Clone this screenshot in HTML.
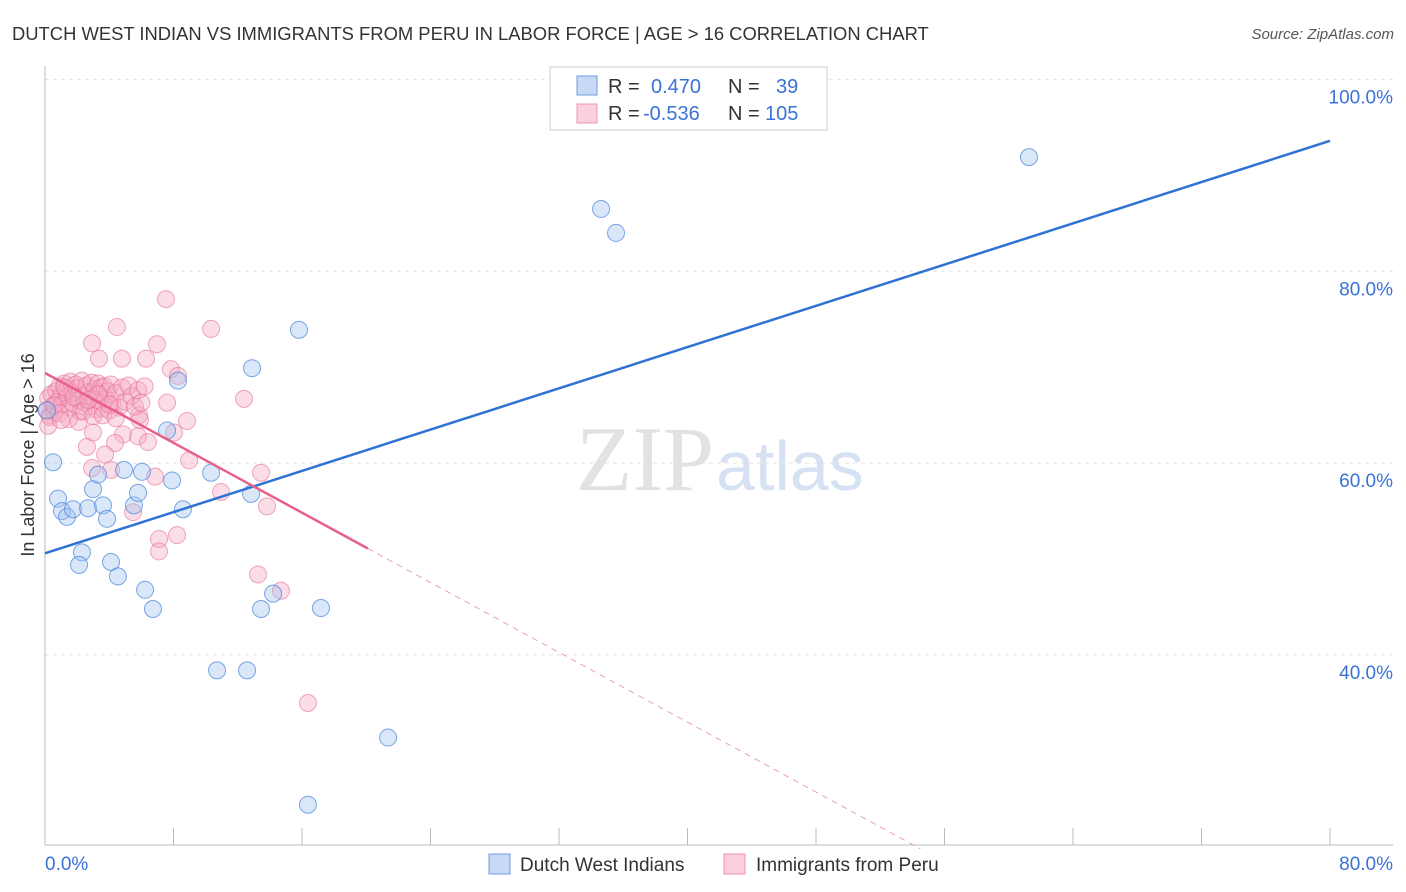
<!DOCTYPE html>
<html><head><meta charset="utf-8"><style>
body{margin:0;background:#fff;font-family:"Liberation Sans",sans-serif}
svg{display:block}
</style></head><body>
<svg id="c" width="1406" height="892">
<text x="12" y="40" font-size="18.4" fill="#333">DUTCH WEST INDIAN VS IMMIGRANTS FROM PERU IN LABOR FORCE | AGE &gt; 16 CORRELATION CHART</text>
<text x="1394" y="39" font-size="15" fill="#555" font-style="italic" text-anchor="end">Source: ZipAtlas.com</text>
<text x="714" y="490" font-size="92" fill="#e2e2e2" text-anchor="end" font-family="Liberation Serif,serif">ZIP</text>
<text x="716" y="490" font-size="70" fill="#d6e2f3">atlas</text>
<text transform="translate(34,455) rotate(-90)" font-size="18" fill="#333" text-anchor="middle">In Labor Force | Age &gt; 16</text>
<g id="grid"></g><g id="pts"></g><g id="lines"></g>
<g>
<rect x="550" y="67" width="277" height="63" fill="#fff" stroke="#ccc"/>
<rect x="577" y="76" width="20" height="19" fill="#c7d9f5" stroke="#6f9ee0"/>
<rect x="577" y="104" width="20" height="19" fill="#fbd0dc" stroke="#ef95b0"/>
<text x="608" y="93" font-size="20" fill="#333">R =</text><text x="651" y="93" font-size="20" fill="#3a72d6">0.470</text>
<text x="728" y="93" font-size="20" fill="#333">N =</text><text x="776" y="93" font-size="20" fill="#3a72d6">39</text>
<text x="608" y="120" font-size="20" fill="#333">R =</text><text x="643" y="120" font-size="20" fill="#3a72d6">-0.536</text>
<text x="728" y="120" font-size="20" fill="#333">N =</text><text x="765" y="120" font-size="20" fill="#3a72d6">105</text>
</g>
<g>
<rect x="489" y="854" width="21" height="20" fill="#c7d9f5" stroke="#6f9ee0"/>
<text x="520" y="871" font-size="19" fill="#333">Dutch West Indians</text>
<rect x="724" y="854" width="21" height="20" fill="#fbd0dc" stroke="#ef95b0"/>
<text x="756" y="871" font-size="19" fill="#333">Immigrants from Peru</text>
</g>
</svg>
<script>
const blueX=[0.50,0.81,1.06,1.37,1.74,2.30,2.12,2.68,2.99,3.30,3.61,3.86,4.11,4.54,4.92,5.54,5.79,6.04,6.23,6.72,7.60,7.91,8.28,8.59,10.34,10.71,12.58,12.89,12.83,13.45,14.20,15.81,16.37,17.18,21.36,34.62,35.55,61.26,0.12];
const blueY=[60.1,56.3,55.0,54.4,55.2,50.7,49.4,55.3,57.3,58.8,55.6,54.2,49.7,48.2,59.3,55.6,56.9,59.1,46.8,44.8,63.4,58.2,68.6,55.2,59.0,38.4,38.4,69.9,56.8,44.8,46.4,73.9,24.4,44.9,31.4,86.5,84.0,91.9,65.5];
const pinkX=[7.53,4.48,10.34,2.93,6.97,3.36,4.79,6.29,7.84,8.28,12.39,7.60,8.84,5.85,5.91,2.99,4.86,8.03,4.36,5.79,6.41,2.61,3.74,8.97,2.93,4.11,6.85,13.45,10.96,13.82,5.48,7.10,8.22,7.10,13.26,14.69,16.37,
0.1,0.2,0.3,0.4,0.5,0.6,0.7,0.8,0.9,1.0,1.1,1.2,1.3,1.4,1.5,1.6,1.7,1.8,1.9,2.0,2.1,2.2,2.3,2.4,2.5,2.6,2.7,2.8,2.9,3.0,3.1,3.2,3.3,3.4,3.5,3.6,3.7,3.8,3.9,4.0,4.1,4.2,4.4,4.6,4.8,5.0,5.2,5.4,5.6,5.8,6.0,6.2,0.3,0.6,0.9,1.2,1.5,1.8,2.1,2.4,2.7,3.0,3.3,3.6,4.0,4.4,0.2,1.0];
const pinkY=[77.1,74.2,74.0,72.5,72.4,70.9,70.9,70.9,69.8,69.1,66.7,66.3,64.4,65.0,64.5,63.2,63.0,63.2,62.1,62.8,62.2,61.7,60.9,60.3,59.5,59.3,58.6,59.0,57.0,55.5,54.9,52.1,52.5,50.8,48.4,46.7,35.0,
65.5,66.8,65.0,67.2,66.0,65.3,67.5,66.4,68.0,67.0,66.2,68.3,67.6,66.9,65.8,68.5,67.3,66.1,68.2,67.8,66.6,65.4,68.6,67.0,66.3,68.1,67.4,65.9,68.4,66.8,67.7,65.6,68.3,66.5,67.9,65.7,68.0,66.7,67.5,65.5,68.2,66.2,67.3,65.8,67.9,66.4,68.1,67.0,65.9,67.6,66.3,68.0,64.8,66.0,65.2,67.9,64.6,66.9,64.3,65.4,66.6,64.9,67.2,65.0,66.1,64.7,63.9,64.5];
const yTicks=[100,80,60,40];
const X=v=>45+v*1285/80, Y=v=>845-(v-20.2)*779/81.2;
const ns="http://www.w3.org/2000/svg";
function mk(t,a,p){const e=document.createElementNS(ns,t);for(const k in a)e.setAttribute(k,a[k]);p.appendChild(e);return e;}
const g=document.getElementById('grid');
yTicks.forEach(t=>{const l=mk('line',{x1:45,x2:1393,y1:Y(t),y2:Y(t),stroke:'#e3e3e3','stroke-dasharray':'4,4'},g);


const tx=mk('text',{x:1393,y:Y(t)+24,'font-size':19,fill:'#3a72d6','text-anchor':'end'},g);tx.textContent=t.toFixed(1)+'%';

});
mk('line',{x1:45,x2:45,y1:66,y2:845,stroke:'#bbb'},g);
const ax=mk('line',{x1:45,x2:1393,y1:845,y2:845,stroke:'#bbb'},g);


for(let i=0;i<=10;i++){mk('line',{x1:X(i*8),x2:X(i*8),y1:828,y2:845,stroke:'#bbb'},g);}
[[0,'start',45,'0.0%'],[80,'end',1393,'80.0%']].forEach(d=>{const t=mk('text',{x:d[2],y:870,'font-size':19,fill:'#3a72d6','text-anchor':d[1]},g);t.textContent=d[3];

});
const p=document.getElementById('pts');
pinkX.forEach((x,i)=>{const c=mk('circle',{cx:X(x),cy:Y(pinkY[i]),r:8.5,fill:'rgba(246,170,195,0.4)',stroke:'rgba(232,110,150,0.6)','stroke-width':1},p);

});
blueX.forEach((x,i)=>{const c=mk('circle',{cx:X(x),cy:Y(blueY[i]),r:8.5,fill:'rgba(160,195,240,0.4)',stroke:'rgba(70,130,220,0.7)','stroke-width':1},p);

});
const L=document.getElementById('lines');
const bl=mk('line',{x1:X(0),y1:Y(50.6),x2:X(80),y2:Y(50.6+0.5375*80),stroke:'#2f72d4','stroke-width':2.5},L);


const pl=mk('line',{x1:X(0),y1:Y(69.4),x2:X(20.1),y2:Y(69.4-0.91*20.1),stroke:'#e8608a','stroke-width':2.5},L);


const pd=mk('line',{x1:X(20.1),y1:Y(69.4-0.91*20.1),x2:X(54.5),y2:Y(69.4-0.91*54.5),stroke:'#e8a0b8','stroke-width':1,'stroke-dasharray':'6,5'},L);


</script>
</body></html>
